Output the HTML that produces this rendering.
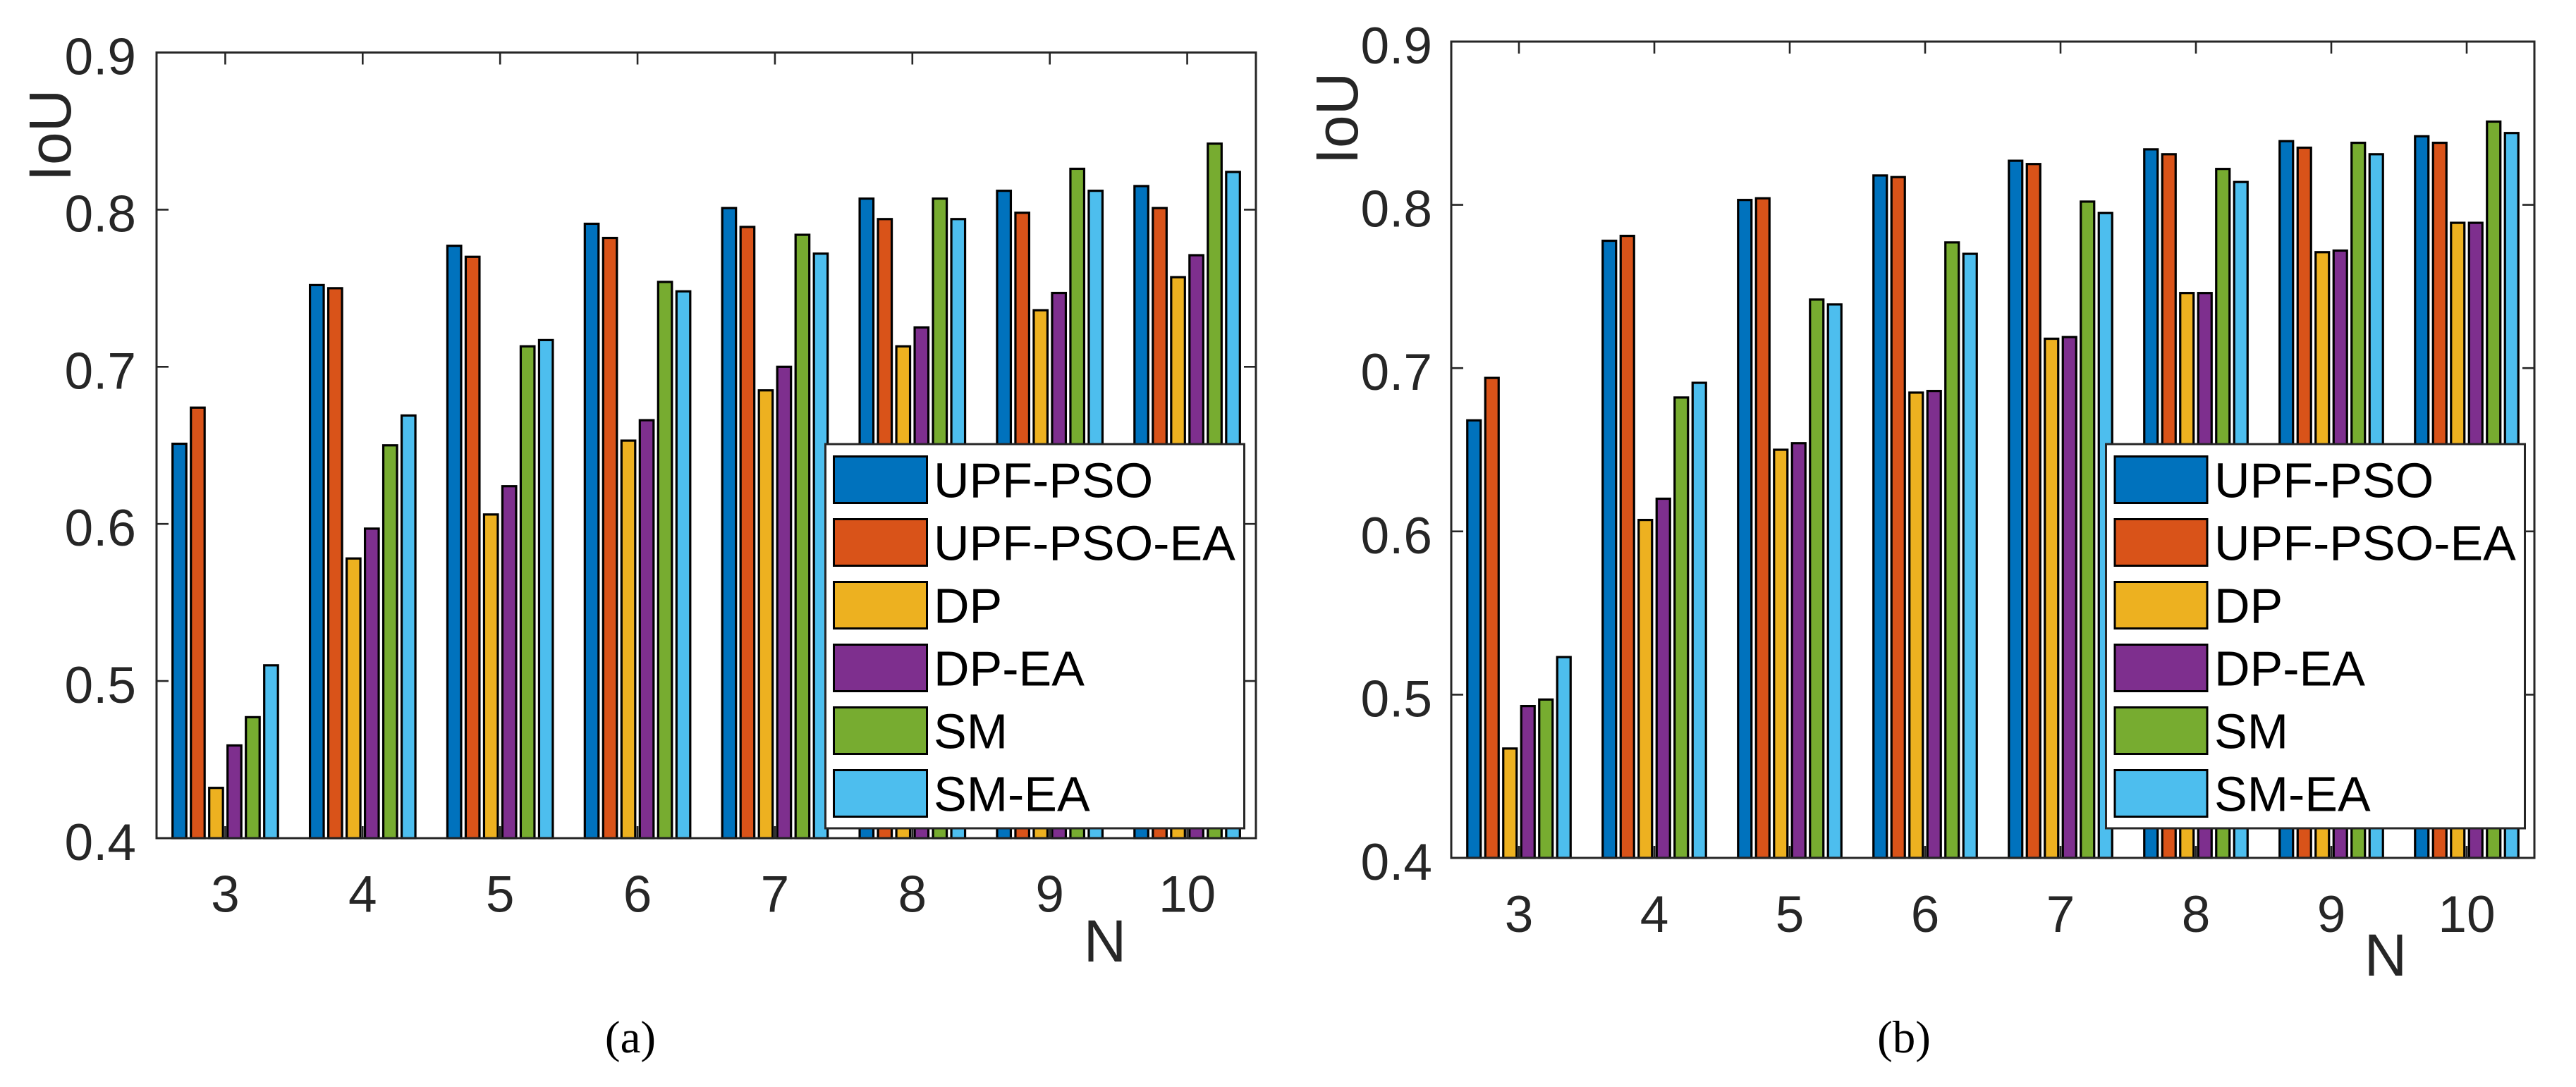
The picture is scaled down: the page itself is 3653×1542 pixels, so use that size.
<!DOCTYPE html>
<html lang="en">
<head>
<meta charset="utf-8">
<title>IoU versus N bar charts</title>
<style>
html,body{margin:0;padding:0;background:#fff;width:3653px;height:1542px;overflow:hidden}
svg{display:block}
text{font-family:"Liberation Sans",Arial,sans-serif}
</style>
</head>
<body>
<svg id="figure" xmlns="http://www.w3.org/2000/svg" width="3653" height="1542" viewBox="0 0 3653 1542">
<rect x="0" y="0" width="3653" height="1542" fill="#ffffff"/>
<text x="894" y="1493" text-anchor="middle" font-size="65" fill="#000000" style="font-family:'Liberation Serif',serif">(a)</text>
<text x="2700" y="1493" text-anchor="middle" font-size="65" fill="#000000" style="font-family:'Liberation Serif',serif">(b)</text>
</svg>
<script>
const categories = [3, 4, 5, 6, 7, 8, 9, 10];
const yTickValues = [0.4, 0.5, 0.6, 0.7, 0.8, 0.9];
const yTickLabels = ['0.4', '0.5', '0.6', '0.7', '0.8', '0.9'];
const seriesNames = ['UPF-PSO', 'UPF-PSO-EA', 'DP', 'DP-EA', 'SM', 'SM-EA'];
const seriesColors = ['#0072BD', '#D95319', '#EDB120', '#7E2F8E', '#77AC30', '#4DBEEE'];

const panelAUpfPso = [0.651, 0.752, 0.777, 0.791, 0.801, 0.807, 0.812, 0.815];
const panelAUpfPsoEa = [0.674, 0.750, 0.770, 0.782, 0.789, 0.794, 0.798, 0.801];
const panelADp = [0.432, 0.578, 0.606, 0.653, 0.685, 0.713, 0.736, 0.757];
const panelADpEa = [0.459, 0.597, 0.624, 0.666, 0.700, 0.725, 0.747, 0.771];
const panelASm = [0.477, 0.650, 0.713, 0.754, 0.784, 0.807, 0.826, 0.842];
const panelASmEa = [0.510, 0.669, 0.717, 0.748, 0.772, 0.794, 0.812, 0.824];

const panelBUpfPso = [0.668, 0.778, 0.803, 0.818, 0.827, 0.834, 0.839, 0.842];
const panelBUpfPsoEa = [0.694, 0.781, 0.804, 0.817, 0.825, 0.831, 0.835, 0.838];
const panelBDp = [0.467, 0.607, 0.650, 0.685, 0.718, 0.746, 0.771, 0.789];
const panelBDpEa = [0.493, 0.620, 0.654, 0.686, 0.719, 0.746, 0.772, 0.789];
const panelBSm = [0.497, 0.682, 0.742, 0.777, 0.802, 0.822, 0.838, 0.851];
const panelBSmEa = [0.523, 0.691, 0.739, 0.770, 0.795, 0.814, 0.831, 0.844];

const panelASeries = [panelAUpfPso, panelAUpfPsoEa, panelADp, panelADpEa, panelASm, panelASmEa];
const panelBSeries = [panelBUpfPso, panelBUpfPsoEa, panelBDp, panelBDpEa, panelBSm, panelBSmEa];

const SVG_NS = 'http://www.w3.org/2000/svg';
const AXIS_COLOR = '#262626';
const svgRoot = document.getElementById('figure');

function make(tag, attrs, parent) {
  const el = document.createElementNS(SVG_NS, tag);
  for (const k in attrs) el.setAttribute(k, attrs[k]);
  parent.appendChild(el);
  return el;
}

function drawPanel(cfg, seriesList) {
  const group = make('g', {}, svgRoot);
  
  

  const xScale = function (n) {
    return cfg.left + (n - 2.5) * (cfg.right - cfg.left) / 8;
  };
  const yScale = function (v) {
    return cfg.bottom - (v - 0.4) * (cfg.bottom - cfg.top) / 0.5;
  };

  // ticks (below the bars)
  categories.forEach(function (n) {
    const x = xScale(n);
    const topTick = make('line', {x1: x, x2: x, y1: cfg.top, y2: cfg.top + 17, stroke: AXIS_COLOR, 'stroke-width': 2.6}, group);
    
    
    const bottomTick = make('line', {x1: x, x2: x, y1: cfg.bottom, y2: cfg.bottom - 17, stroke: AXIS_COLOR, 'stroke-width': 2.6}, group);
    
    
    const label = make('text', {x: x, y: cfg.xLabelBase, 'text-anchor': 'middle', 'font-size': 73, fill: AXIS_COLOR}, group);
    
    
    label.textContent = String(n);
  });
  yTickValues.forEach(function (v, i) {
    const y = yScale(v);
    if (i > 0 && i < yTickValues.length - 1) {
      const leftTick = make('line', {x1: cfg.left, x2: cfg.left + 17, y1: y, y2: y, stroke: AXIS_COLOR, 'stroke-width': 2.6}, group);
      
      
      const rightTick = make('line', {x1: cfg.right, x2: cfg.right - 17, y1: y, y2: y, stroke: AXIS_COLOR, 'stroke-width': 2.6}, group);
      
      
    }
    const label = make('text', {x: cfg.yLabelRight, y: y + 31, 'text-anchor': 'end', 'font-size': 73, fill: AXIS_COLOR}, group);
    
    
    label.textContent = yTickLabels[i];
  });

  // bars
  const barStep = cfg.barStep;
  const barWidth = barStep - 6.5;
  seriesList.forEach(function (values, s) {
    values.forEach(function (v, c) {
      const cx = xScale(categories[c]) + (s - 2.5) * barStep;
      const yTop = yScale(v);
      const bar = make('rect', {
        x: cx - barWidth / 2,
        y: yTop,
        width: barWidth,
        height: cfg.bottom - yTop,
        fill: seriesColors[s],
        stroke: '#000000',
        'stroke-width': 3.2
      }, group);
      
      
    });
  });

  // axes box
  const box = make('rect', {x: cfg.left, y: cfg.top, width: cfg.right - cfg.left, height: cfg.bottom - cfg.top, fill: 'none', stroke: AXIS_COLOR, 'stroke-width': 3}, group);
  
  

  // axis titles
  const yTitle = make('text', {transform: 'translate(' + cfg.yTitleX + ' ' + cfg.yTitleY + ') rotate(-90)', 'text-anchor': 'middle', 'font-size': 84, fill: AXIS_COLOR}, group);
  
  
  yTitle.textContent = 'IoU';
  const xTitle = make('text', {x: cfg.xTitleX, y: cfg.xTitleY, 'text-anchor': 'middle', 'font-size': 84, fill: AXIS_COLOR}, group);
  
  
  xTitle.textContent = 'N';

  // legend
  const legend = make('g', {}, group);
  
  
  const legendBox = make('rect', {x: cfg.legendLeft, y: 630, width: cfg.legendRight - cfg.legendLeft, height: 545, fill: '#ffffff', stroke: AXIS_COLOR, 'stroke-width': 3}, legend);
  
  
  seriesNames.forEach(function (name, i) {
    const cy = 680.5 + 89 * i;
    const swatch = make('rect', {x: cfg.swatchLeft, y: cy - 33, width: cfg.swatchWidth, height: 66, fill: seriesColors[i], stroke: '#000000', 'stroke-width': 3}, legend);
    
    
    const entry = make('text', {x: cfg.legendText, y: cy + 25, 'font-size': 70, fill: '#000000'}, legend);
    
    
    entry.textContent = name;
  });
}

drawPanel({
  id: 'chart-a', left: 222, right: 1781, top: 74.5, bottom: 1189, barStep: 26,
  xLabelBase: 1293.5, yLabelRight: 193,
  yTitleX: 100, yTitleY: 192, xTitleX: 1567, xTitleY: 1364,
  legendLeft: 1170.5, legendRight: 1764.5, swatchLeft: 1182.5, swatchWidth: 132, legendText: 1324
}, panelASeries);

drawPanel({
  id: 'chart-b', left: 2058, right: 3594, top: 59, bottom: 1217, barStep: 25.5,
  xLabelBase: 1322, yLabelRight: 2031,
  yTitleX: 1925, yTitleY: 168, xTitleX: 3383, xTitleY: 1384,
  legendLeft: 2986.5, legendRight: 3580.5, swatchLeft: 2999, swatchWidth: 131, legendText: 3140
}, panelBSeries);
</script>
</body>
</html>
